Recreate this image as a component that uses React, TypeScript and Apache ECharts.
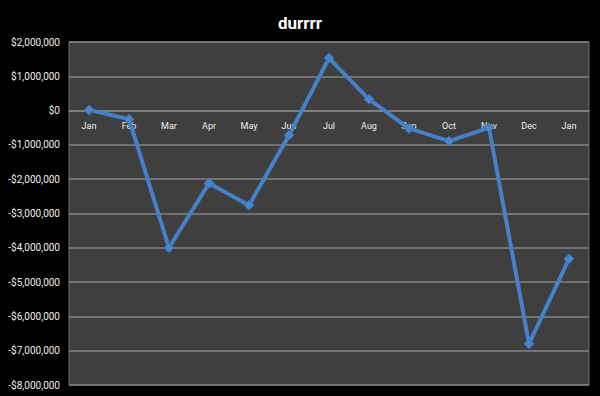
import React, { useEffect, useRef } from "react";
import * as echarts from "echarts";

const titleText = "durrrr";
const months = ["Jan", "Feb", "Mar", "Apr", "May", "Jun", "Jul", "Aug", "Sep", "Oct", "Nov", "Dec", "Jan"];
const values = [20000, -250000, -4000000, -2120000, -2760000, -720000, 1530000, 330000, -520000, -890000, -500000, -6800000, -4320000];
const yMin = -8000000;
const yMax = 2000000;
const yStep = 1000000;

const W = 600;
const H = 396;
const gridTop = 42;
const gridBottom = 11;
const plotH = H - gridTop - gridBottom;
const zeroOffset = -((0 - yMin) / (yMax - yMin)) * plotH;

function fmtMoney(v: number): string {
  const s = Math.abs(v).toLocaleString("en-US");
  return (v < 0 ? "-$" : "$") + s;
}

export default function App() {
  const ref = useRef<HTMLDivElement>(null);
  useEffect(() => {
    if (!ref.current) return;
    const chart = echarts.init(ref.current, undefined, { renderer: "svg" });
    chart.setOption({
      animation: false,
      backgroundColor: "#000000",
      title: {
        text: titleText,
        left: "center",
        top: 9,
        textStyle: { color: "#ffffff", fontFamily: "Roboto", fontWeight: "bold", fontSize: 17 },
      },
      grid: {
        left: 69,
        right: 11,
        top: gridTop,
        bottom: gridBottom,
        outerBoundsMode: "none",
        containLabel: false,
        show: true,
        backgroundColor: "#3f3f3f",
        borderColor: "#6e6e6e",
        borderWidth: 1,
      },
      xAxis: {
        type: "category",
        data: months,
        boundaryGap: true,
        offset: zeroOffset,
        axisLine: { show: true, onZero: false, lineStyle: { color: "#858585", width: 1.5 } },
        axisTick: { show: false },
        axisLabel: { color: "#eeeeee", fontFamily: "Roboto", fontSize: 9, margin: 11, interval: 0 },
        splitLine: { show: false },
      },
      yAxis: {
        type: "value",
        min: yMin,
        max: yMax,
        interval: yStep,
        axisLine: { show: false },
        axisTick: { show: false },
        axisLabel: {
          color: "#eeeeee",
          fontFamily: "Roboto",
          fontSize: 10,
          margin: 9,
          formatter: (v: number) => fmtMoney(v),
        },
        splitLine: { show: true, lineStyle: { color: "#858585", width: 1.5 } },
      },
      series: [
        {
          type: "line",
          data: values,
          z: 3,
          symbol: "diamond",
          symbolSize: 10,
          lineStyle: { color: "#4680c8", width: 4 },
          itemStyle: { color: "#4a86d0", borderColor: "#3a6fb0", borderWidth: 1 },
        },
      ],
    });
    return () => chart.dispose();
  }, []);
  return <div ref={ref} style={{ position: "fixed", left: 0, top: 0, width: W, height: H }} />;
}
